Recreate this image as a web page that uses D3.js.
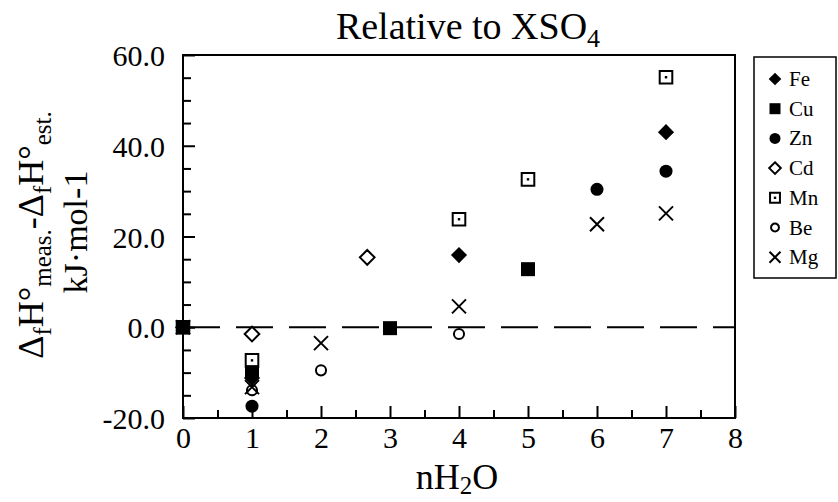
<!DOCTYPE html>
<html><head><meta charset="utf-8">
<script src="https://cdn.jsdelivr.net/npm/d3@7/dist/d3.min.js"></script>
<style>
html,body{margin:0;padding:0;background:#fff;}
text{font-family:"Liberation Serif","Times New Roman",serif;fill:#000;}
</style></head>
<body><svg id="c" width="838" height="502"></svg>
<script>
// ---- data ----
const seriesNames = ["Fe","Cu","Zn","Cd","Mn","Be","Mg"];
const fe = [[0,0],[1,-11.2],[4,15.9],[7,43.0]];
const cu = [[0,0],[1,-9.9],[3,-0.2],[5,12.8]];
const zn = [[0,0],[1,-17.4],[6,30.4],[7,34.4]];
const cd = [[1,-1.5],[2.67,15.4]];
const mn = [[0,0],[1,-7.3],[4,23.8],[5,32.6],[7,55.1]];
const be = [[0,0],[1,-13.9],[2,-9.5],[4,-1.5]];
const mg = [[0,0],[1,-13.2],[2,-3.5],[4,4.6],[6,22.7],[7,25.1]];
const xMajorTicks = [0,1,2,3,4,5,6,7,8];
const yMajorTicks = [-20,0,20,40,60];

const SERIF = "Liberation Serif";
const svg = d3.select("#c");
const L=183, R=735, T=55, B=418;
const x = d3.scaleLinear().domain([0,8]).range([L,R]);
const y = d3.scaleLinear().domain([-20,60]).range([B,T]);

// symbols
function sym(g, name, s){
  const p = g.append("path").attr("stroke","#000").attr("stroke-width",2);
  const h = s/2;
  if(name==="Fe"){ const d=h*1.15; p.attr("d",`M0,${-d}L${d},0L0,${d}L${-d},0Z`).attr("fill","#000").attr("stroke","none"); }
  else if(name==="Cu"){ p.attr("d",`M${-h},${-h}H${h}V${h}H${-h}Z`).attr("fill","#000").attr("stroke","none"); }
  else if(name==="Zn"){ p.attr("d",d3.symbol(d3.symbolCircle, Math.PI*h*h)()).attr("fill","#000").attr("stroke","none"); }
  else if(name==="Cd"){ const d=h*1.05; p.attr("d",`M0,${-d}L${d},0L0,${d}L${-d},0Z`).attr("fill","#fff"); }
  else if(name==="Mn"){ const q=h*0.9; p.attr("d",`M${-q},${-q}H${q}V${q}H${-q}Z`).attr("fill","#fff");
    g.append("rect").attr("x",-1.2).attr("y",-1.2).attr("width",2.4).attr("height",2.4).attr("fill","#000"); }
  else if(name==="Be"){ p.attr("d",d3.symbol(d3.symbolCircle, Math.PI*(h*0.72)*(h*0.72))()).attr("fill","#fff"); }
  else if(name==="Mg"){ const q=h*1.0; p.attr("d",`M${-q},${-q}L${q},${q}M${q},${-q}L${-q},${q}`).attr("fill","none"); }
}

// zero dashed line
svg.append("line").attr("x1",x(0)).attr("x2",x(8)).attr("y1",y(0)).attr("y2",y(0))
  .attr("stroke","#000").attr("stroke-width",2).attr("stroke-dasharray","37,16");

// axes
svg.append("g").attr("transform",`translate(0,${B})`)
  .call(d3.axisBottom(x).tickValues(d3.range(0.5,8,1)).tickSize(-8).tickFormat(""));
const gx2 = svg.append("g").attr("transform",`translate(0,${B})`)
  .call(d3.axisBottom(x).tickValues(xMajorTicks).tickSize(-12).tickPadding(24).tickFormat(d3.format("d")));
svg.append("g").attr("transform",`translate(${L},0)`)
  .call(d3.axisLeft(y).tickValues(d3.range(-15,60,5).filter(v=>v%20!==0)).tickSize(-8).tickFormat(""));
const gy2 = svg.append("g").attr("transform",`translate(${L},0)`)
  .call(d3.axisLeft(y).tickValues(yMajorTicks).tickSize(-12).tickPadding(18).tickFormat(d3.format(".1f")));
svg.selectAll(".domain").remove();
svg.selectAll("g").attr("font-family",SERIF);
svg.selectAll(".tick line").attr("stroke","#000").attr("stroke-width",2);
gx2.selectAll("text").attr("font-size",30).attr("dy","0.2em");
gy2.selectAll("text").attr("font-size",30).attr("dy","0.35em")
  .text(d=>d3.format(".1f")(d).replace("−","-"));

// frame
svg.append("rect").attr("x",L).attr("y",T).attr("width",R-L).attr("height",B-T)
  .attr("fill","none").attr("stroke","#000").attr("stroke-width",2);

// points (open markers first, filled ones on top)
const allData = {Fe:fe,Cu:cu,Zn:zn,Cd:cd,Mn:mn,Be:be,Mg:mg};
const drawOrder = ["Cd","Mn","Be","Mg","Fe","Zn","Cu"];
const sizes = {Fe:14,Cu:14,Zn:13,Cd:14,Mn:14,Be:14,Mg:14};
drawOrder.forEach(name=>{
  allData[name].forEach(d=>{
    const g = svg.append("g").attr("transform",`translate(${x(d[0])},${y(d[1])})`);
    sym(g,name,sizes[name]);
  });
});

// title
const t = svg.append("text").attr("x",468).attr("y",39).attr("text-anchor","middle")
  .attr("font-size",38).attr("font-family",SERIF);
t.append("tspan").text("Relative to XSO");
t.append("tspan").text("4").attr("font-size",26).attr("dy",8);

// x label
const xl = svg.append("text").attr("x",457).attr("y",489).attr("text-anchor","middle")
  .attr("font-size",36).attr("font-family",SERIF);
xl.append("tspan").text("nH");
xl.append("tspan").text("2").attr("font-size",25).attr("dy",5);
xl.append("tspan").text("O").attr("dy",-5);

// y label
const yl = svg.append("text").attr("transform","translate(43,235) rotate(-90)").attr("text-anchor","middle")
  .attr("font-size",36).attr("font-family",SERIF);
yl.append("tspan").text("Δ");
yl.append("tspan").text("f").attr("font-size",25).attr("dy",8);
yl.append("tspan").text("H°").attr("dy",-8);
yl.append("tspan").text("meas.").attr("font-size",25).attr("dy",8);
yl.append("tspan").text("-Δ").attr("dy",-8);
yl.append("tspan").text("f").attr("font-size",25).attr("dy",8);
yl.append("tspan").text("H°").attr("dy",-8);
yl.append("tspan").text("est.").attr("font-size",25).attr("dy",8);
svg.append("text").attr("transform","translate(87,232) rotate(-90)").attr("text-anchor","middle")
  .attr("font-size",34).attr("font-family",SERIF).text("kJ·mol-1");

// legend
svg.append("rect").attr("x",754).attr("y",57).attr("width",82).attr("height",221)
  .attr("fill","#fff").attr("stroke","#000").attr("stroke-width",1.5);
seriesNames.forEach((n,i)=>{
  const yy = 79 + i*29.7;
  const g = svg.append("g").attr("transform",`translate(775,${yy})`);
  sym(g,n,11);
  svg.append("text").attr("x",789).attr("y",yy+7).attr("font-size",21).attr("font-family",SERIF).text(n);
});
</script></body></html>
